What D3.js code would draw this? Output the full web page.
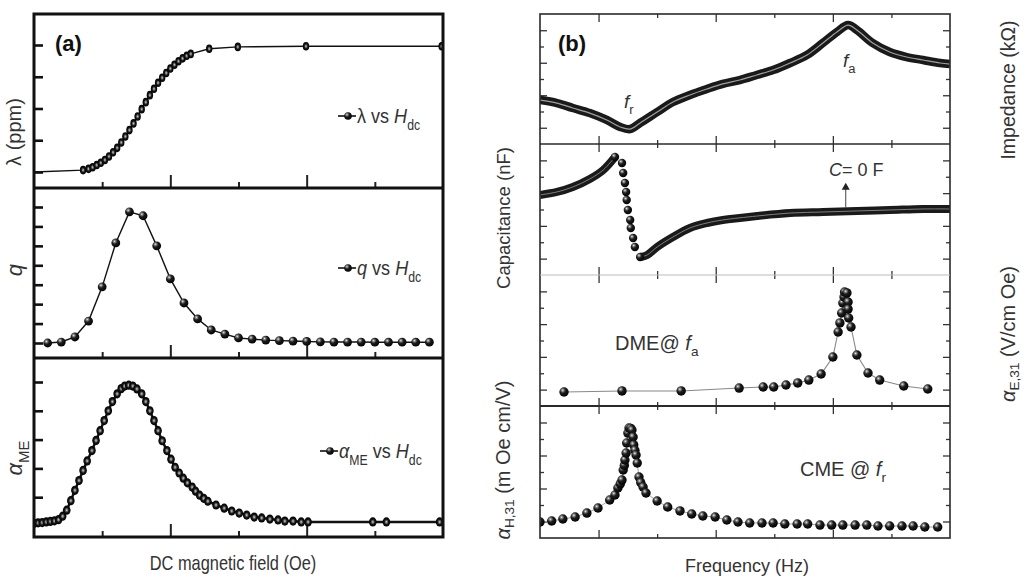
<!DOCTYPE html>
<html><head><meta charset="utf-8">
<script src="https://cdn.jsdelivr.net/npm/d3@7"></script>
<style>body{margin:0;background:#fff}svg{display:block}</style>
</head><body><svg id="c" width="1024" height="586"></svg>
<script>
// ---------- DATA ----------
// Panel (a): DC magnetic field (arbitrary tick units 0..6)
const lamH = [0,0.72,0.80,0.86,0.92,0.98,1.04,1.10,1.16,1.22,1.28,1.34,1.40,1.46,1.52,1.58,1.64,1.70,1.76,1.82,1.88,1.94,2.00,2.06,2.12,2.18,2.24,2.30,2.57,2.99,3.99,5.98];
const lamV = [0,0.06,0.10,0.15,0.22,0.29,0.38,0.49,0.62,0.76,0.93,1.12,1.32,1.53,1.75,1.98,2.20,2.42,2.62,2.81,2.97,3.12,3.26,3.38,3.49,3.58,3.66,3.72,3.88,3.94,3.96,3.96];
const qH = [0.2,0.4,0.6,0.8,1.0,1.2,1.4,1.6,1.8,2.0,2.2,2.4,2.6,2.8,3.0,3.2,3.4,3.6,3.8,4.0,4.2,4.4,4.6,4.8,5.0,5.2,5.4,5.6,5.8];
const qV = [0,0.05,0.31,1.13,2.89,5.15,6.75,6.55,5.0,3.3,2.06,1.24,0.67,0.46,0.26,0.2,0.15,0.12,0.1,0.08,0.06,0.05,0.05,0.05,0.04,0.04,0.04,0.04,0.04];
const meH = [0,0.06,0.12,0.18,0.24,0.30,0.36,0.42,0.48,0.54,0.60,0.66,0.72,0.78,0.85,0.91,0.97,1.03,1.09,1.15,1.22,1.28,1.33,1.39,1.45,1.51,1.58,1.64,1.70,1.76,1.82,1.88,1.95,2.01,2.07,2.13,2.19,2.25,2.32,2.37,2.43,2.49,2.55,2.67,2.79,2.90,3.01,3.12,3.23,3.34,3.46,3.58,3.68,3.80,3.92,4.02,4.97,5.17,5.95];
const meV = [0.09,0.11,0.12,0.14,0.16,0.18,0.22,0.34,0.55,0.88,1.24,1.58,1.93,2.26,2.62,2.97,3.31,3.66,4.00,4.32,4.59,4.77,4.86,4.89,4.86,4.76,4.59,4.32,4.00,3.66,3.31,2.96,2.62,2.32,2.04,1.84,1.66,1.50,1.35,1.21,1.07,0.96,0.86,0.73,0.62,0.52,0.45,0.38,0.31,0.28,0.24,0.21,0.17,0.17,0.14,0.14,0.14,0.14,0.14];
// Panel (b): Frequency (arbitrary tick units 0..7), values in arbitrary units 0..10
const impF = [0,0.29,0.56,0.85,1.14,1.37,1.54,1.71,2.0,2.27,2.56,2.85,3.12,3.41,3.70,3.98,4.27,4.56,4.83,5.07,5.26,5.41,5.68,5.97,6.26,6.54,6.83,7.0];
const impV = [3.38,3.15,2.77,2.38,1.85,1.31,1.15,1.62,2.46,3.23,3.77,4.23,4.62,4.92,5.31,5.69,6.23,6.85,7.77,8.62,9.15,8.77,7.77,7.08,6.69,6.46,6.23,6.15];
const capF = [0,0.29,0.56,0.85,1.08,1.28,1.40,1.42,1.45,1.47,1.48,1.50,1.54,1.55,1.59,1.62,1.71,1.83,2.00,2.27,2.56,2.85,3.12,3.70,4.27,4.83,5.41,5.97,6.54,7.0];
const capV = [6.11,6.34,6.72,7.33,8.02,9.01,8.55,7.79,7.02,6.34,5.73,4.96,4.20,3.59,2.82,2.14,1.37,1.53,2.14,2.90,3.59,3.97,4.20,4.50,4.73,4.81,4.89,4.96,5.04,5.04];
const dmeF = [0.41,1.40,2.41,3.40,3.81,3.99,4.20,4.40,4.59,4.80,5.00,5.09,5.12,5.15,5.17,5.19,5.20,5.24,5.26,5.26,5.27,5.31,5.41,5.60,5.80,6.21,6.62];
const dmeV = [1.07,1.15,1.15,1.37,1.45,1.45,1.60,1.76,1.98,2.44,3.74,5.65,6.34,7.10,7.86,8.32,8.70,8.63,7.94,7.40,6.72,6.03,3.89,2.52,1.98,1.53,1.30];
const cmeF = [0,0.20,0.39,0.60,0.80,0.99,1.19,1.28,1.33,1.37,1.40,1.42,1.44,1.45,1.47,1.48,1.50,1.52,1.55,1.57,1.59,1.60,1.62,1.64,1.66,1.69,1.72,1.76,1.81,2.00,2.18,2.39,2.59,2.78,2.99,3.19,3.38,3.58,3.79,3.98,4.18,4.39,4.57,4.78,4.98,5.17,5.38,5.58,5.77,5.97,6.18,6.37,6.57,6.79];
const cmeV = [1.21,1.29,1.44,1.59,1.89,2.27,2.88,3.26,3.79,4.10,4.39,5.15,5.50,5.91,6.44,7.20,7.95,8.33,8.30,8.18,7.65,7.05,6.65,6.29,5.68,4.62,4.20,3.86,3.41,2.80,2.35,2.05,1.82,1.67,1.59,1.36,1.21,1.14,1.14,1.14,1.06,1.06,1.06,0.98,0.98,0.98,0.98,0.98,0.91,0.91,0.91,0.91,0.83,0.83];
// tick values
const aXMajor = [2,4], aXMinor = [1,3,5];
const lamTicks = [0,1,2,3,4], qTicks = [0,1,2,3,4,5,6,7], meTicks = [1,2,3,4,5];
const bXMajor = [1,3,5], bXMinor = [2,4,6];
const bYMajor = [1.25,3.75,6.25,8.75], bYMinor = [2.5,5,7.5];

// ---------- DRAWING ----------
const FONT = "'Liberation Sans', Arial, Helvetica, sans-serif";
const TXT = '#333';
const svg = d3.select('#c');
const defs = svg.append('defs');
function gradient(id, stops, cx, cy, r){
  const g = defs.append('radialGradient').attr('id',id).attr('cx',cx).attr('cy',cy).attr('r',r);
  stops.forEach(s=>g.append('stop').attr('offset',s[0]).attr('stop-color',s[1]));
}
gradient('ball',[[0,'#eeeeee'],[0.16,'#8a8a8a'],[0.42,'#1e1e1e'],[1,'#000']],'0.36','0.32','0.72');
gradient('ring',[[0,'#d0d0d0'],[0.3,'#6a6a6a'],[0.55,'#151515'],[1,'#000']],'0.5','0.5','0.5');
const zip = (a,b)=>a.map((d,i)=>[d,b[i]]);

function rich(sel, parts, size){
  let shift = 0;
  parts.forEach(p=>{
    const ts = sel.append('tspan').text(p.t);
    const target = p.sub ? size*0.32 : 0;
    if (target !== shift){ ts.attr('dy', target-shift); shift = target; }
    if (p.sub) ts.attr('font-size', size*0.68);
    if (p.i) ts.attr('font-style','italic');
  });
}
function label(x,y,parts,size,opt={}){
  const t = svg.append('text').attr('font-family',FONT).attr('font-size',size).attr('fill',TXT)
    .attr('text-anchor',opt.anchor||'start');
  let tr = `translate(${x},${y})`;
  if (opt.rot) tr += ` rotate(${opt.rot})`;
  if (opt.sx) tr += ` scale(${opt.sx},1)`;
  t.attr('transform',tr);
  if (opt.bold) t.attr('font-weight','bold');
  rich(t, parts, size);
  return t;
}
function clip(id,x0,x1,y0,y1){
  defs.append('clipPath').attr('id',id).append('rect').attr('x',x0).attr('y',y0).attr('width',x1-x0).attr('height',y1-y0);
  return svg.append('g').attr('clip-path',`url(#${id})`);
}
function styleAxis(g,color,w){
  g.select('.domain').remove();
  g.selectAll('text').remove();
  g.selectAll('line').attr('stroke',color).attr('stroke-width',w);
}

// ===== Panel (a) =====
const AL=34, AR=443, AT=14, A1=188, A2=358, AB=537;
const xA = d3.scaleLinear().domain([0,6]).range([AL,AR]);
const yLam = d3.scaleLinear().domain([0,4]).range([172,45]);
const yQ = d3.scaleLinear().domain([0,7]).range([343,207]);
const yME = d3.scaleLinear().domain([0,5]).range([526,382]);

const rowsA = [[AT,A1,yLam,lamTicks],[A1,A2,yQ,qTicks],[A2,AB,yME,meTicks]];
rowsA.forEach(([t,b,y,tk])=>{
  const gy = svg.append('g').attr('transform',`translate(${AL},0)`).call(d3.axisRight(y).tickValues(tk).tickSize(9).tickFormat(''));
  styleAxis(gy,'#111',2.6);
  const gM = svg.append('g').attr('transform',`translate(0,${b})`).call(d3.axisTop(xA).tickValues(aXMajor).tickSize(13).tickFormat(''));
  styleAxis(gM,'#222',2);
  const gm = svg.append('g').attr('transform',`translate(0,${b})`).call(d3.axisTop(xA).tickValues(aXMinor).tickSize(6).tickFormat(''));
  styleAxis(gm,'#222',2);
});

// lambda
const gLam = clip('cl1',AL,AR,AT,A1);
gLam.append('path').datum(zip(lamH,lamV)).attr('fill','none').attr('stroke','#111').attr('stroke-width',1.4)
  .attr('d',d3.line().x(d=>xA(d[0])).y(d=>yLam(d[1])));
gLam.selectAll('ellipse').data(zip(lamH,lamV).slice(1)).join('ellipse')
  .attr('cx',d=>xA(d[0])).attr('cy',d=>yLam(d[1])).attr('rx',3.2).attr('ry',4.3)
  .attr('fill','url(#ring)');
// q
const gQ = clip('cl2',AL,AR,A1,A2);
gQ.append('path').datum(zip(qH,qV)).attr('fill','none').attr('stroke','#111').attr('stroke-width',1.4)
  .attr('d',d3.line().x(d=>xA(d[0])).y(d=>yQ(d[1])));
gQ.selectAll('circle').data(zip(qH,qV)).join('circle')
  .attr('cx',d=>xA(d[0])).attr('cy',d=>yQ(d[1])).attr('r',4.4).attr('fill','url(#ball)');
// alpha ME
const gME = clip('cl3',AL,AR,A2,AB);
gME.append('path').datum(zip(meH,meV)).attr('fill','none').attr('stroke','#111').attr('stroke-width',2.5)
  .attr('d',d3.line().x(d=>xA(d[0])).y(d=>yME(d[1])));
gME.selectAll('ellipse').data(zip(meH,meV)).join('ellipse')
  .attr('cx',d=>xA(d[0])).attr('cy',d=>yME(d[1])).attr('rx',3.8).attr('ry',4.6).attr('fill','url(#ring)');

// frame (a)
svg.append('rect').attr('x',AL).attr('y',AT).attr('width',AR-AL).attr('height',AB-AT)
  .attr('fill','none').attr('stroke','#111').attr('stroke-width',3);
[A1,A2].forEach(yv=>svg.append('line').attr('x1',AL).attr('x2',AR).attr('y1',yv).attr('y2',yv).attr('stroke','#111').attr('stroke-width',3.2));

// legends (a)
function legend(x0,yc,parts){
  svg.append('line').attr('x1',x0).attr('x2',x0+18).attr('y1',yc).attr('y2',yc).attr('stroke','#111').attr('stroke-width',1.6);
  svg.append('circle').attr('cx',x0+10).attr('cy',yc).attr('r',3.8).attr('fill','url(#ball)');
  label(x0+19, yc+7, parts, 21, {sx:0.86});
}
legend(338,116,[{t:'λ vs '},{t:'H',i:true},{t:'dc',sub:true}]);
legend(338,268,[{t:'q',i:true},{t:' vs '},{t:'H',i:true},{t:'dc',sub:true}]);
legend(320,451,[{t:'α',i:true},{t:'ME',sub:true},{t:' vs '},{t:'H',i:true},{t:'dc',sub:true}]);

label(55,51,[{t:'(a)'}],22,{bold:true}).attr('fill','#111');
label(233,570,[{t:'DC magnetic field (Oe)'}],20,{anchor:'middle',sx:0.82});
label(21,132,[{t:'λ (ppm)'}],20,{anchor:'middle',rot:-90});
label(22,270,[{t:'q',i:true}],22,{anchor:'middle',rot:-90});
label(22,458,[{t:'α',i:true},{t:'ME',sub:true}],22,{anchor:'middle',rot:-90});

// ===== Panel (b) =====
const BL=540, BR=950;
const rowsB = [[14,144],[144,275],[275,406],[406,538]];
const xB = d3.scaleLinear().domain([0,7]).range([BL,BR]);
const yB = rowsB.map(([t,b])=>d3.scaleLinear().domain([0,10]).range([b,t]));

rowsB.forEach(([t,b],i)=>{
  const y = yB[i];
  [[bXMajor,8],[bXMinor,4]].forEach(([tv,sz])=>{
    styleAxis(svg.append('g').attr('transform',`translate(0,${b})`).call(d3.axisTop(xB).tickValues(tv).tickSize(sz).tickFormat('')),'#333',1.3);
    styleAxis(svg.append('g').attr('transform',`translate(0,${t})`).call(d3.axisBottom(xB).tickValues(tv).tickSize(sz).tickFormat('')),'#333',1.3);
  });
  [[bYMajor,7],[bYMinor,4]].forEach(([tv,sz])=>{
    styleAxis(svg.append('g').attr('transform',`translate(${BL},0)`).call(d3.axisRight(y).tickValues(tv).tickSize(sz).tickFormat('')),'#333',1.3);
    styleAxis(svg.append('g').attr('transform',`translate(${BR},0)`).call(d3.axisLeft(y).tickValues(tv).tickSize(sz).tickFormat('')),'#333',1.3);
  });
});

// impedance band
const g1 = clip('cb1',BL,BR,14,144);
const l1 = d3.line().x(d=>xB(d[0])).y(d=>yB[0](d[1])).curve(d3.curveCatmullRom.alpha(0.5));
g1.append('path').datum(zip(impF,impV)).attr('fill','none').attr('stroke','#1a1a1a').attr('stroke-width',8.5).attr('stroke-linejoin','round').attr('d',l1);
g1.append('path').datum(zip(impF,impV)).attr('fill','none').attr('stroke','#a0a0a0').attr('stroke-width',1.2).attr('d',l1);

// capacitance
const g2 = clip('cb2',BL,BR,144,275);
const capD = zip(capF,capV);
const iPk = d3.maxIndex(capV), iMn = d3.minIndex(capV);
const l2 = d3.line().x(d=>xB(d[0])).y(d=>yB[1](d[1])).curve(d3.curveCatmullRom.alpha(0.5));
[capD.slice(0,iPk+1), capD.slice(iMn)].forEach(seg=>{
  g2.append('path').datum(seg).attr('fill','none').attr('stroke','#1a1a1a').attr('stroke-width',8).attr('stroke-linejoin','round').attr('d',l2);
  g2.append('path').datum(seg).attr('fill','none').attr('stroke','#8a8a8a').attr('stroke-width',0.9).attr('d',l2);
});
g2.selectAll('circle').data(capD.slice(iPk,iMn+1)).join('circle')
  .attr('cx',d=>xB(d[0])).attr('cy',d=>yB[1](d[1])).attr('r',4.2).attr('fill','url(#ball)');

// DME
const g3 = clip('cb3',BL,BR,275,406);
g3.append('path').datum(zip(dmeF,dmeV)).attr('fill','none').attr('stroke','#888').attr('stroke-width',1.1)
  .attr('d',d3.line().x(d=>xB(d[0])).y(d=>yB[2](d[1])));
g3.selectAll('circle').data(zip(dmeF,dmeV)).join('circle')
  .attr('cx',d=>xB(d[0])).attr('cy',d=>yB[2](d[1])).attr('r',4.7).attr('fill','url(#ball)');

// CME
const g4 = clip('cb4',BL,BR,406,538);
g4.append('path').datum(zip(cmeF,cmeV)).attr('fill','none').attr('stroke','#999').attr('stroke-width',0.9)
  .attr('d',d3.line().x(d=>xB(d[0])).y(d=>yB[3](d[1])));
g4.selectAll('circle').data(zip(cmeF,cmeV)).join('circle')
  .attr('cx',d=>xB(d[0])).attr('cy',d=>yB[3](d[1])).attr('r',4.7).attr('fill','url(#ball)');

// frame (b)
svg.append('rect').attr('x',BL).attr('y',14).attr('width',BR-BL).attr('height',538-14)
  .attr('fill','none').attr('stroke','#2a2a2a').attr('stroke-width',1.6);
svg.append('line').attr('x1',BL).attr('x2',BR).attr('y1',144).attr('y2',144).attr('stroke','#2a2a2a').attr('stroke-width',1.6);
svg.append('line').attr('x1',BL).attr('x2',BR).attr('y1',275).attr('y2',275).attr('stroke','#bbb').attr('stroke-width',1.2);
svg.append('line').attr('x1',BL).attr('x2',BR).attr('y1',406).attr('y2',406).attr('stroke','#2a2a2a').attr('stroke-width',1.8);

// annotations (b)
label(558,51,[{t:'(b)'}],22,{bold:true}).attr('fill','#111');
label(624,108,[{t:'f',i:true},{t:'r',sub:true}],19);
label(843,67,[{t:'f',i:true},{t:'a',sub:true}],19);
label(829,176,[{t:'C',i:true},{t:'= 0 F'}],18);
const ax = xB(5.22);
svg.append('line').attr('x1',ax).attr('x2',ax).attr('y1',yB[1](5.15)).attr('y2',yB[1](6.6)).attr('stroke','#444').attr('stroke-width',1);
svg.append('path').attr('d',`M${ax-4},${yB[1](6.5)} L${ax+4},${yB[1](6.5)} L${ax},${yB[1](7.05)} Z`).attr('fill','#222');
label(615,350,[{t:'DME@ '},{t:'f',i:true},{t:'a',sub:true}],20);
label(800,476,[{t:'CME @ '},{t:'f',i:true},{t:'r',sub:true}],20);
label(747,572,[{t:'Frequency (Hz)'}],18,{anchor:'middle'});
label(1008,90,[{t:'Impedance (kΩ)'}],19.5,{anchor:'middle',rot:-90}).attr('dominant-baseline','central');
label(1008,334,[{t:'α',i:true},{t:'E,31',sub:true},{t:' (V/cm Oe)'}],20,{anchor:'middle',rot:-90}).attr('dominant-baseline','central');
label(503,218,[{t:'Capacitance (nF)'}],18.5,{anchor:'middle',rot:-90}).attr('dominant-baseline','central');
label(503,460,[{t:'α',i:true},{t:'H,31',sub:true},{t:' (m Oe cm/V)'}],20,{anchor:'middle',rot:-90}).attr('dominant-baseline','central');
</script></body></html>
